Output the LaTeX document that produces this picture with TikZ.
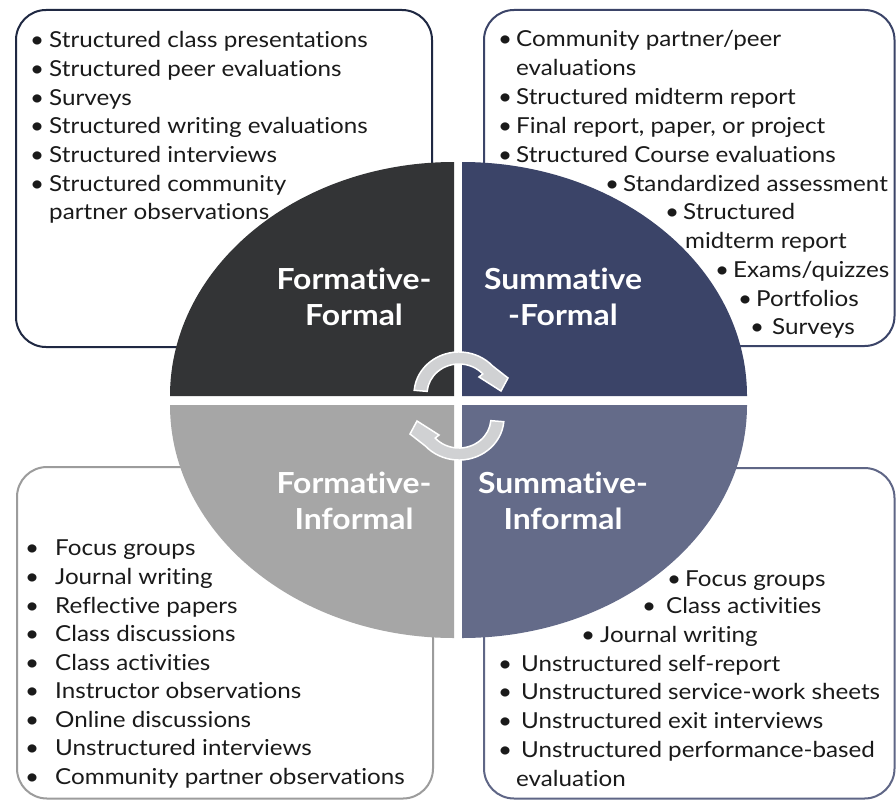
\documentclass[tikz,border=0pt]{standalone}
\usepackage{fontspec}
\setmainfont{Lato}[FakeStretch=1.1, Ligatures=NoCommon]
\definecolor{txt}{HTML}{1A1A1A}
\definecolor{qTL}{HTML}{333436}
\definecolor{qTR}{HTML}{3B4468}
\definecolor{qBL}{HTML}{A6A6A6}
\definecolor{qBR}{HTML}{646B89}
\definecolor{bTL}{HTML}{1F2842}
\definecolor{bTR}{HTML}{3B4468}
\definecolor{bBL}{HTML}{9C9C9C}
\definecolor{bBR}{HTML}{5F6686}
\definecolor{arw}{HTML}{D0D1D3}
\newcommand\listitemat[5]{\node[item] (#1) at (#2,#3) {\llap{•\kern#4pt}#5};}
\begin{document}
\begin{tikzpicture}[x=1pt,y=-1pt,
  item/.style={anchor=base west, inner sep=0pt, font=\fontsize{22}{26}\selectfont, text=txt},
  lab/.style={anchor=base, inner sep=0pt, text=white, font=\fontsize{29}{35}\selectfont\bfseries},
  box/.style={line width=2pt, rounded corners=30pt},
  arrowband/.style={fill=arw, draw=white, line width=1.5pt, line join=miter}
]
\useasboundingbox[fill=white] (0,0) rectangle (896,800);

% boxes
\draw[box, draw=bTL] (16,10) rectangle (432,347);
\draw[box, draw=bTR] (484,10) rectangle (894.5,346);
\draw[box, draw=bBL] (17,467) rectangle (433,798.5);
\draw[box, draw=bBR] (484,468) rectangle (894.5,798.5);

% quadrants
\fill[qTL] (454,396) -- (170,396) arc[start angle=180, end angle=270, x radius=284, y radius=234] -- cycle;
\fill[qTR] (462,396) -- (462,162) arc[start angle=270, end angle=360, x radius=285, y radius=234] -- cycle;
\fill[qBR] (462,405) -- (747,405) arc[start angle=0, end angle=90, x radius=285, y radius=233] -- cycle;
\fill[qBL] (454,405) -- (454,638) arc[start angle=90, end angle=180, x radius=284, y radius=233] -- cycle;

% circular arrows
\path[arrowband] (414.2,390.3) arc[start angle=-175, end angle=-42, x radius=45, y radius=42]
  -- (508,378) -- (501,391) -- (479,377) -- (482.8,373.9)
  arc[start angle=-42, end angle=-175, x radius=32, y radius=30] -- cycle;
\path[arrowband, rotate around={180:(459,406)}] (414.2,390.3) arc[start angle=-175, end angle=-42, x radius=45, y radius=42]
  -- (508,378) -- (501,391) -- (479,377) -- (482.8,373.9)
  arc[start angle=-42, end angle=-175, x radius=32, y radius=30] -- cycle;

% quadrant labels
\node[lab] (ffa) at (354,289.5) {Formative-};
\node[lab] (ffb) at (354,325) {Formal};
\node[lab] (sfa) at (563,289.5) {Summative};
\node[lab] (sfb) at (563,325) {-Formal};
\node[lab] (fia) at (354,493) {Formative-};
\node[lab] (fib) at (354,529) {Informal};
\node[lab] (sia) at (563,493) {Summative-};
\node[lab] (sib) at (563,529) {Informal};

% top-left list
\listitemat{tl1}{49}{48}{5}{Structured class presentations}
\listitemat{tl2}{49}{77}{5}{Structured peer evaluations}
\listitemat{tl3}{49}{105}{5}{Surveys}
\listitemat{tl4}{49}{133}{5}{Structured writing evaluations}
\listitemat{tl5}{49}{162}{5}{Structured interviews}
\listitemat{tl6}{49}{191}{5}{Structured community}
\node[item] (tl7) at (49,219) {partner observations};

% top-right list
\listitemat{tr1}{516}{47}{4}{Community partner/peer}
\node[item] (tr2) at (516,75) {evaluations};
\listitemat{tr3}{516}{104}{4}{Structured midterm report}
\listitemat{tr4}{516}{133}{4}{Final report, paper, or project}
\listitemat{tr5}{516}{162}{4}{Structured Course evaluations}
\listitemat{tr6}{623}{191}{4}{Standardized assessment}
\listitemat{tr7}{683}{219}{4}{Structured}
\node[item] (tr8) at (685,248) {midterm report};
\listitemat{tr9}{733}{277}{4}{Exams/quizzes}
\listitemat{tr10}{756}{306}{4}{Portfolios}
\listitemat{tr11}{772}{334}{8}{Surveys}

% bottom-left list
\listitemat{bl1}{55}{555}{16}{Focus groups}
\listitemat{bl2}{55}{584}{16}{Journal writing}
\listitemat{bl3}{55}{613}{16}{Reflective papers}
\listitemat{bl4}{55}{641}{16}{Class discussions}
\listitemat{bl5}{55}{670}{16}{Class activities}
\listitemat{bl6}{55}{698}{16}{Instructor observations}
\listitemat{bl7}{55}{727}{16}{Online discussions}
\listitemat{bl8}{55}{755}{16}{Unstructured interviews}
\listitemat{bl9}{55}{784}{16}{Community partner observations}

% bottom-right list
\listitemat{br1}{685}{586}{4}{Focus groups}
\listitemat{br2}{666}{613}{10}{Class activities}
\listitemat{br3}{600}{642}{5}{Journal writing}
\listitemat{br4}{521}{671}{9}{Unstructured self-report}
\listitemat{br5}{521}{699}{9}{Unstructured service-work sheets}
\listitemat{br6}{521}{728}{9}{Unstructured exit interviews}
\listitemat{br7}{521}{757}{9}{Unstructured performance-based}
\node[item] (br8) at (516,786) {evaluation};
\end{tikzpicture}
\end{document}
